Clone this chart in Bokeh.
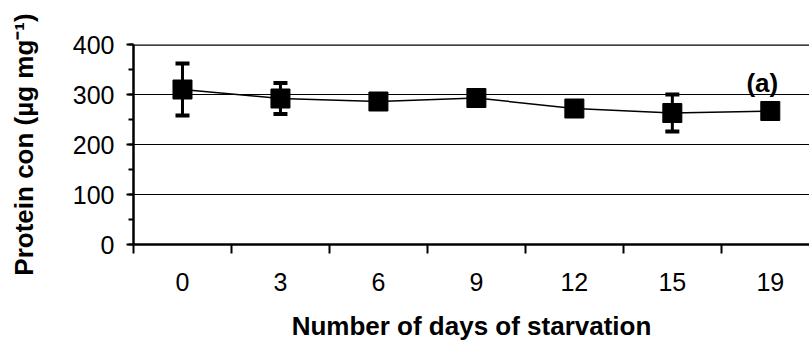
from bokeh.plotting import figure
from bokeh.models import (ColumnDataSource, Whisker, TeeHead, FixedTicker,
                          SingleIntervalTicker, Span, Label, Range1d)
from bokeh.embed import file_html
from bokeh.resources import INLINE

# Protein content over the starvation period
day_labels = ["0", "3", "6", "9", "12", "15", "19"]
protein = [310, 292, 286, 293, 272, 263, 267]
protein_sd = [52, 31, 8, 10, 8, 37, 11]

pos = list(range(len(day_labels)))
src = ColumnDataSource(dict(
    x=pos, y=protein,
    lo=[v - s for v, s in zip(protein, protein_sd)],
    hi=[v + s for v, s in zip(protein, protein_sd)],
))

FONT = "Liberation Sans"

p = figure(width=809, height=349, output_backend="svg", toolbar_location=None,
           x_range=Range1d(-0.5, 6.4), y_range=Range1d(0, 400),
           min_border_left=133, min_border_right=0, min_border_top=44,
           min_border_bottom=105)
p.outline_line_color = None
p.background_fill_color = "white"
p.border_fill_color = "white"

# horizontal gridlines
p.xgrid.visible = False
p.ygrid.grid_line_color = "black"
p.ygrid.grid_line_width = 1
p.ygrid.grid_line_alpha = 1

# heavy top border at the 400 line
p.add_layout(Span(location=400, dimension="width", line_color="black", line_width=2.5))

# error bars
wh = Whisker(source=src, base="x", lower="lo", upper="hi", line_color="black",
             line_width=3,
             upper_head=TeeHead(size=14, line_width=4, line_color="black"),
             lower_head=TeeHead(size=14, line_width=4, line_color="black"))
p.add_layout(wh)

p.line("x", "y", source=src, line_color="black", line_width=1.5)
p.scatter("x", "y", source=src, marker="square", size=19,
          fill_color="black", line_color="black")

p.add_layout(Label(x=6, y=324, x_offset=-8, text="(a)", text_font=FONT,
                   text_font_style="bold", text_font_size="26px",
                   text_align="center", text_baseline="middle", text_color="black"))

# x axis: day labels at category centres, ticks at category boundaries
xa = p.xaxis[0]
xa.ticker = FixedTicker(ticks=pos, minor_ticks=[i - 0.5 for i in range(len(pos) + 1)])
xa.major_label_overrides = {i: lab for i, lab in enumerate(day_labels)}
xa.major_tick_out = 0
xa.major_tick_in = 0
xa.minor_tick_out = 9
xa.minor_tick_in = 0
xa.minor_tick_line_width = 2
xa.axis_line_width = 2.5
xa.major_label_text_font = FONT
xa.major_label_text_font_size = "25px"
xa.major_label_text_color = "black"
xa.major_label_standoff = 19
xa.axis_label = "Number of days of starvation"
xa.axis_label_text_font = FONT
xa.axis_label_text_font_style = "bold"
xa.axis_label_text_font_size = "26px"
xa.axis_label_text_color = "black"
xa.axis_label_standoff = 17

ya = p.yaxis[0]
ya.ticker = SingleIntervalTicker(interval=100, num_minor_ticks=2)
ya.axis_line_width = 2.5
ya.major_tick_out = 7
ya.major_tick_in = 0
ya.major_tick_line_width = 2
ya.minor_tick_out = 5
ya.minor_tick_in = 0
ya.minor_tick_line_width = 2
ya.major_label_text_font = FONT
ya.major_label_text_font_size = "25px"
ya.major_label_text_color = "black"
ya.major_label_standoff = 12
ya.axis_label = "Protein con (µg mg\u207b\u00b9)"
ya.axis_label_text_font = FONT
ya.axis_label_text_font_style = "bold"
ya.axis_label_text_font_size = "26px"
ya.axis_label_text_color = "black"
ya.axis_label_standoff = 31

open("out.html", "w").write(file_html(p, INLINE))
